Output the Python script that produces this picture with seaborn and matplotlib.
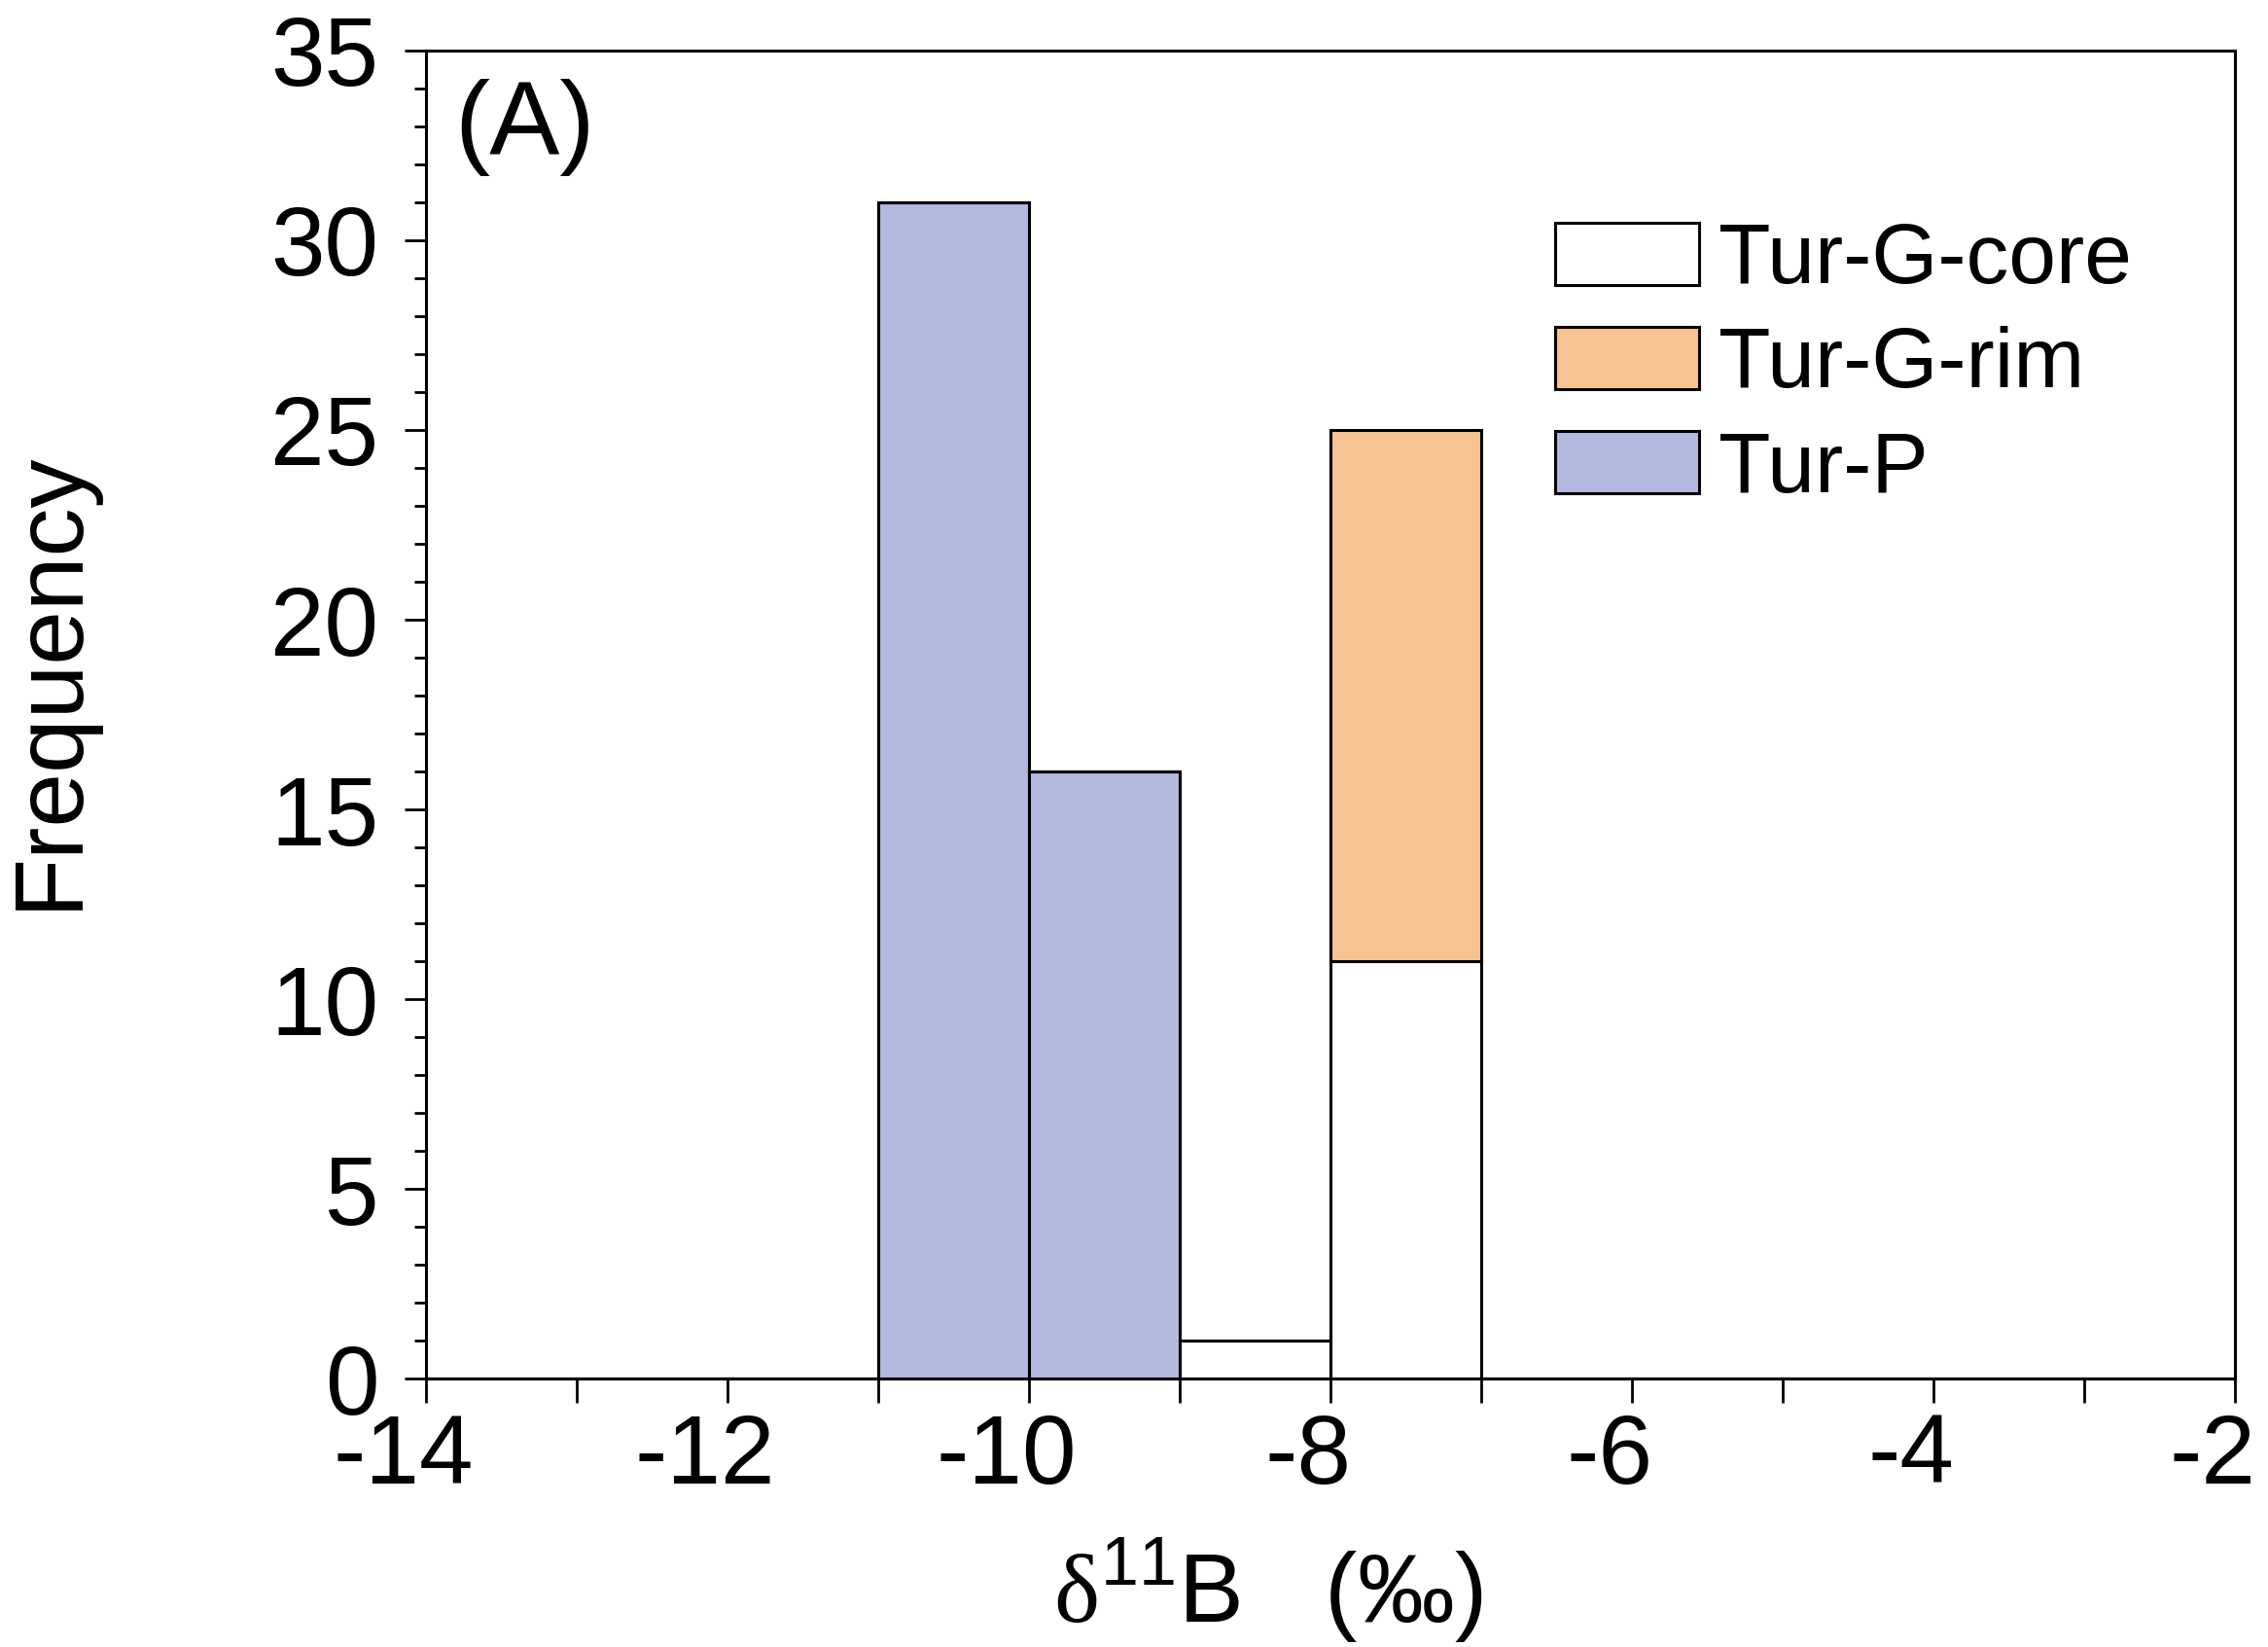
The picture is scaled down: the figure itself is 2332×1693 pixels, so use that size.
import matplotlib
matplotlib.use("Agg")
import matplotlib.pyplot as plt
from matplotlib.patches import Patch
from matplotlib.ticker import MultipleLocator
from matplotlib.transforms import ScaledTranslation
import pandas as pd
import seaborn as sns

# histogram counts (bin width 1 permil)
bin_edges = list(range(-14, -1))
core_centers = [-8.5, -7.5]
core_counts = [1, 11]
rim_centers = [-7.5]
rim_counts = [14]
p_centers = [-10.5, -9.5]
p_counts = [31, 16]

groups = ["Tur-G-core", "Tur-G-rim", "Tur-P"]
colors = {"Tur-G-core": "#FFFFFF", "Tur-G-rim": "#F6C493", "Tur-P": "#B4B9E0"}

df = pd.concat([
    pd.DataFrame({"d11B": core_centers, "count": core_counts, "group": "Tur-G-core"}),
    pd.DataFrame({"d11B": rim_centers, "count": rim_counts, "group": "Tur-G-rim"}),
    pd.DataFrame({"d11B": p_centers, "count": p_counts, "group": "Tur-P"}),
], ignore_index=True)

sns.set_style("ticks")
plt.rcParams["font.family"] = ["Liberation Sans", "DejaVu Sans"]
plt.rcParams["text.color"] = "black"
plt.rcParams["xtick.color"] = "black"
plt.rcParams["ytick.color"] = "black"
plt.rcParams["axes.edgecolor"] = "black"
plt.rcParams["mathtext.fontset"] = "custom"
plt.rcParams["mathtext.rm"] = "Liberation Serif"
plt.rcParams["mathtext.sf"] = "Liberation Sans"

fig = plt.figure(figsize=(23.32, 16.93), dpi=100)
ax = fig.add_axes([0.1878, 0.163, 0.7976, 0.8063])

# seaborn stacks the last hue level at the bottom
sns.histplot(data=df, x="d11B", weights="count", hue="group",
             hue_order=["Tur-G-rim", "Tur-G-core", "Tur-P"],
             multiple="stack", bins=bin_edges, palette=colors,
             edgecolor="black", linewidth=2.2, alpha=1, legend=False, ax=ax)

ax.set_xlim(-14, -2)
ax.set_ylim(0, 35)
ax.xaxis.set_major_locator(MultipleLocator(2))
ax.xaxis.set_minor_locator(MultipleLocator(1))
ax.yaxis.set_major_locator(MultipleLocator(5))
ax.yaxis.set_minor_locator(MultipleLocator(1))
ax.tick_params(axis="x", which="major", length=18, width=2, pad=7, labelsize=72, labelcolor="black")
ax.tick_params(axis="x", which="minor", length=18, width=2)
ax.tick_params(axis="y", which="major", length=16, width=2, pad=19, labelsize=72, labelcolor="black")
ax.tick_params(axis="y", which="minor", length=9, width=2)
ax.set_xticks(range(-14, -1, 2))
ax.set_xticklabels([str(t) for t in range(-14, -1, 2)])
shift = ScaledTranslation(-0.23, 0, fig.dpi_scale_trans)
for lab in ax.get_xticklabels():
    lab.set_transform(lab.get_transform() + shift)
for s in ax.spines.values():
    s.set_linewidth(2.2)
    s.set_visible(True)

ax.set_xlabel("")
ax.set_ylabel("")
fig.text(0.0223, 0.587, "Frequency", rotation=90, fontsize=72, ha="center", va="center")
fig.text(0.559, 0.0148, r"$\mathrm{\delta}^{\mathsf{11}}$B   (‰)", fontsize=72, ha="center", va="baseline")
ax.text(0.0156, 0.979, "(A)", transform=ax.transAxes, fontsize=78, ha="left", va="top")

handles = [Patch(facecolor=colors[g], edgecolor="black", linewidth=2.2) for g in groups]
ax.legend(handles, groups, loc="upper left", bbox_to_anchor=(0.624, 0.871), frameon=False,
          fontsize=63, handlelength=1.7, handleheight=0.75, handletextpad=0.22,
          labelspacing=0.3, borderaxespad=0, borderpad=0)

fig.savefig("out.png", dpi=100)
